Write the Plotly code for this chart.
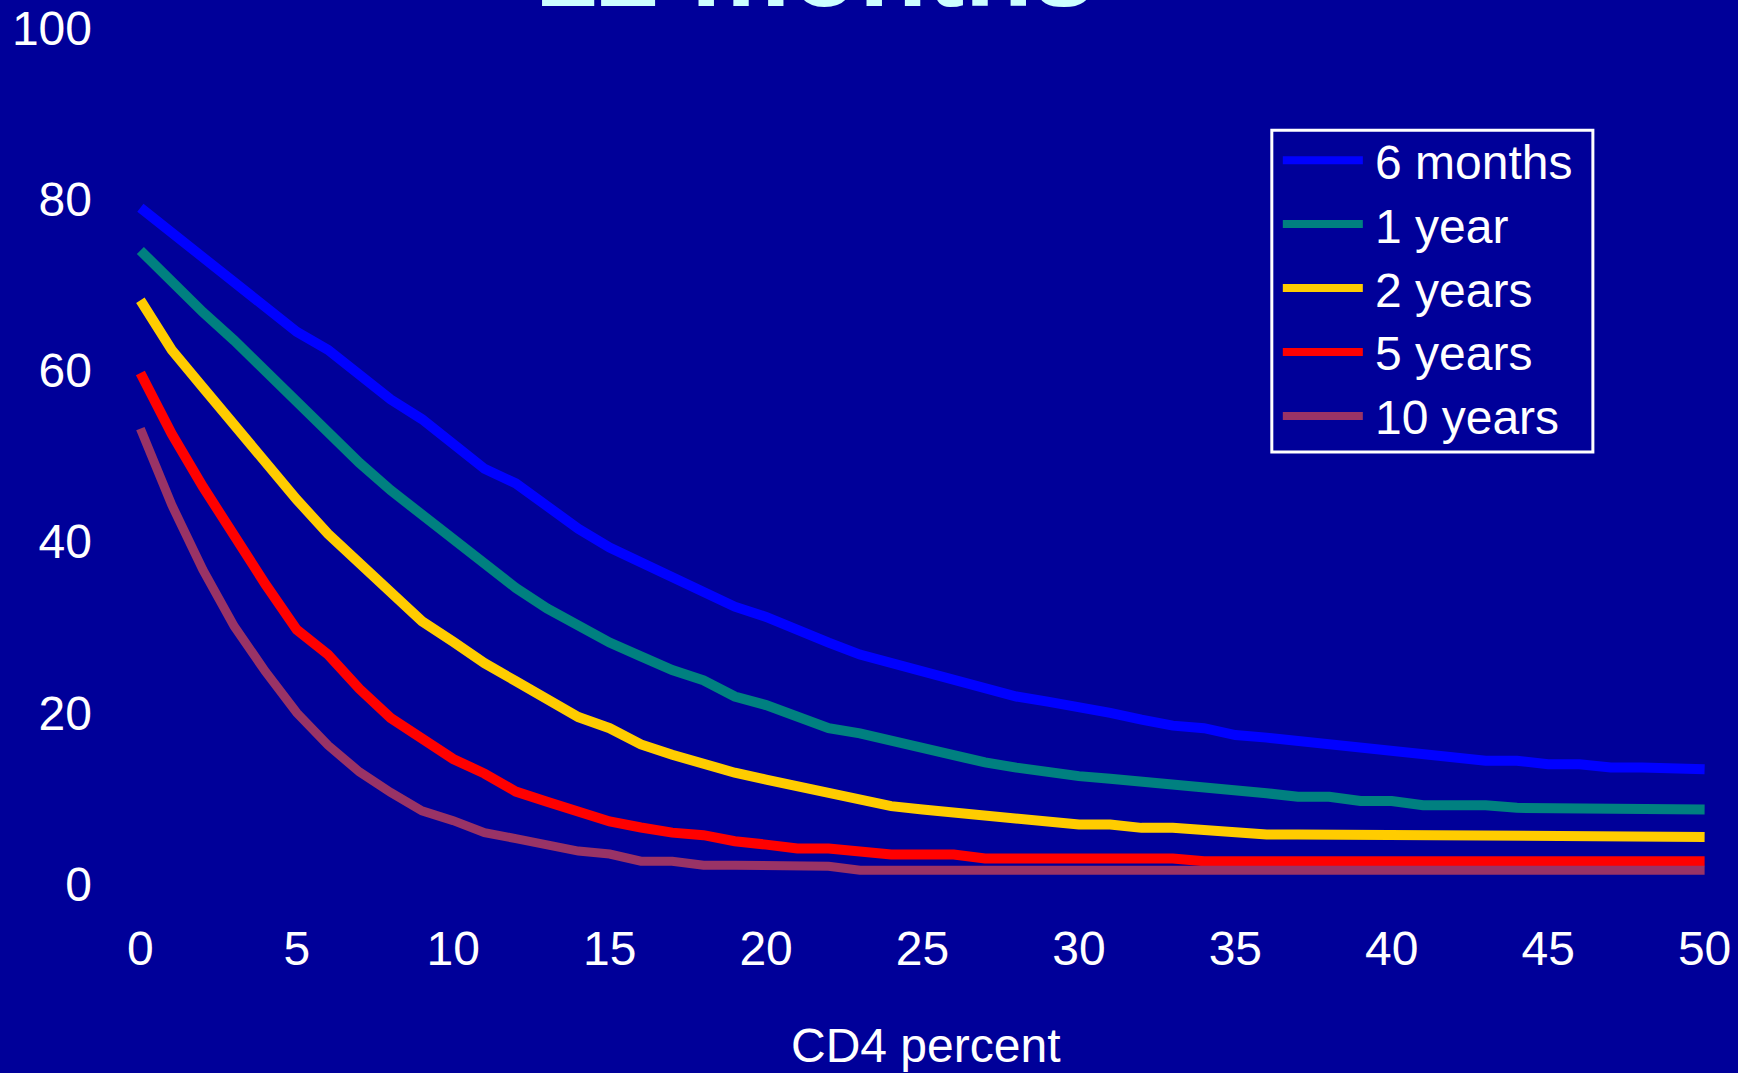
import plotly.graph_objects as go

# CD4 percent (x) and predicted percentage for each time horizon
cd4_percent = list(range(0, 51))

six_months = [79.0, 76.1, 73.2, 70.3, 67.4, 64.5, 62.4, 59.5, 56.6, 54.3,
              51.5, 48.5, 46.8, 44.0, 41.5, 39.3, 37.5, 35.7, 34.0, 32.4,
              31.2, 29.6, 28.2, 26.8, 25.8, 24.7, 23.6, 22.6, 21.9, 21.3,
              20.7, 20.0, 19.2, 18.5, 18.2, 17.4, 17.1, 16.7, 16.3, 16.0,
              15.6, 15.2, 14.7, 14.4, 14.4, 14.0, 14.0, 13.6, 13.6, 13.4,
              13.4]

one_year = [74.0, 70.2, 66.8, 63.5, 59.9, 56.2, 52.5, 49.2, 46.0, 43.1,
            40.3, 37.3, 34.6, 32.2, 30.1, 28.2, 26.6, 25.0, 23.8, 21.9,
            20.9, 19.4, 18.2, 17.6, 16.7, 15.9, 15.1, 14.2, 13.6, 13.0,
            12.6, 12.3, 12.0, 11.7, 11.3, 11.0, 10.6, 10.2, 10.2, 9.7,
            9.7, 9.2, 9.2, 9.2, 8.9, 8.9, 8.9, 8.7, 8.7, 8.7,
            8.7]

two_years = [68.2, 62.4, 58.0, 53.5, 49.2, 44.9, 40.9, 37.4, 33.9, 30.7,
             28.3, 25.8, 23.7, 21.7, 19.5, 18.2, 16.3, 15.1, 13.9, 13.0,
             12.2, 11.4, 10.6, 9.8, 9.1, 8.7, 8.4, 8.0, 7.7, 7.3,
             6.94, 6.94, 6.56, 6.56, 6.28, 6.24, 5.78, 5.78, 5.78, 5.78,
             5.5, 5.5, 5.5, 5.5, 5.5, 5.5, 5.5, 5.5, 5.5, 5.5,
             5.5]

five_years = [59.7, 52.6, 46.4, 40.5, 35.0, 29.7, 26.8, 22.8, 19.4, 17.0,
              14.6, 12.9, 10.8, 9.6, 8.4, 7.3, 6.6, 6.0, 5.7, 5.0,
              4.6, 4.14, 4.14, 3.8, 3.44, 3.44, 3.44, 2.98, 2.98, 2.98,
              2.98, 2.98, 2.98, 2.98, 2.66, 2.66, 2.66, 2.66, 2.66, 2.66,
              2.66, 2.66, 2.66, 2.66, 2.66, 2.66, 2.66, 2.66, 2.66, 2.66,
              2.66]

ten_years = [53.2, 44.3, 36.7, 30.1, 24.8, 20.0, 16.2, 13.1, 10.7, 8.55,
             7.4, 6.0, 5.3, 4.5, 3.85, 3.5, 2.66, 2.66, 2.2, 2.2,
             2.08, 2.08, 2.08, 1.61, 1.61, 1.61, 1.61, 1.61, 1.61, 1.61,
             1.61, 1.61, 1.61, 1.61, 1.61, 1.61, 1.61, 1.61, 1.61, 1.61,
             1.61, 1.61, 1.61, 1.61, 1.61, 1.61, 1.61, 1.61, 1.61, 1.61,
             1.61]

series_names = ["6 months", "1 year", "2 years", "5 years", "10 years"]
series_values = [six_months, one_year, two_years, five_years, ten_years]
series_colors = ["#0000FF", "#008080", "#FFCC00", "#FF0000", "#993366"]
series_widths = [10, 10, 10, 10, 9]

x_ticks = [0, 5, 10, 15, 20, 25, 30, 35, 40, 45, 50]
y_ticks = [0, 20, 40, 60, 80, 100]

BG = "#000099"
FONT = "Arial, Liberation Sans, sans-serif"

W, H = 1738, 1073
M_L, M_R, M_T, M_B = 131.4, 23.9, 27.7, 188.5
PLOT_W = W - M_L - M_R
PLOT_H = H - M_T - M_B


def px_x(px):
    """Page pixel column -> paper x."""
    return (px - M_L) / PLOT_W


def px_y(py):
    """Page pixel row -> paper y."""
    return (H - M_B - py) / PLOT_H


fig = go.Figure()
for name, vals, color, width in zip(series_names, series_values, series_colors, series_widths):
    fig.add_trace(go.Scatter(
        x=cd4_percent, y=vals, name=name, mode="lines",
        line=dict(color=color, width=width),
        showlegend=False,
    ))

# Boxed key in the upper right
shapes = [dict(type="rect", xref="paper", yref="paper",
               x0=px_x(1272), x1=px_x(1593), y0=px_y(452), y1=px_y(130),
               line=dict(color="white", width=3), fillcolor=BG, layer="above")]
annotations = []
row_top, row_step = 160, 64
for i, (name, color) in enumerate(zip(series_names, series_colors)):
    cy = row_top + i * row_step
    shapes.append(dict(type="line", xref="paper", yref="paper",
                       x0=px_x(1283), x1=px_x(1363), y0=px_y(cy), y1=px_y(cy),
                       line=dict(color=color, width=8), layer="above"))
    annotations.append(dict(text=name, xref="paper", yref="paper",
                            x=px_x(1373), y=px_y(cy + 2), xanchor="left", yanchor="middle",
                            showarrow=False,
                            font=dict(family=FONT, size=48, color="white")))

annotations += [
    dict(text="CD4 percent", xref="paper", yref="paper",
         x=px_x(926), y=px_y(1046), xanchor="center", yanchor="middle",
         showarrow=False, font=dict(family=FONT, size=48, color="white")),
    dict(text="<b>12 months</b>", xref="paper", yref="paper",
         x=px_x(815), y=px_y(-33), xanchor="center", yanchor="middle",
         showarrow=False, font=dict(family=FONT, size=112, color="#CCFFFF")),
]

fig.update_layout(
    width=W, height=H,
    paper_bgcolor=BG, plot_bgcolor=BG,
    margin=dict(l=M_L, r=M_R, t=M_T, b=M_B, autoexpand=False),
    font=dict(family=FONT, size=48, color="white"),
    showlegend=False,
    xaxis=dict(
        range=[-0.3, 50.3], tickvals=x_ticks, ticktext=[str(v) for v in x_ticks],
        showgrid=False, zeroline=False, showline=False, ticks="",
        ticklabelstandoff=32,
        tickfont=dict(family=FONT, size=48, color="white"),
    ),
    yaxis=dict(
        range=[0, 100], tickvals=y_ticks, ticktext=[str(v) for v in y_ticks],
        showgrid=False, zeroline=False, showline=False, ticks="",
        ticklabelstandoff=38,
        tickfont=dict(family=FONT, size=48, color="white"),
    ),
    shapes=shapes,
    annotations=annotations,
)

fig.write_html("out.html")
